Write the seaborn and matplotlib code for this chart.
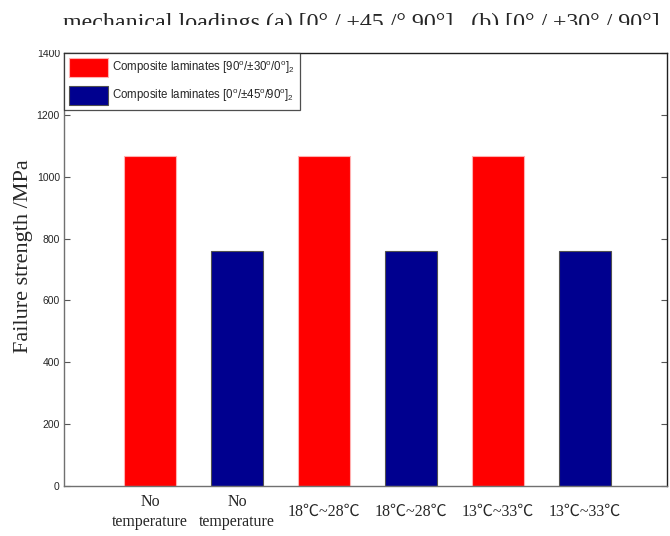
import matplotlib
matplotlib.use("Agg")
import matplotlib.pyplot as plt
import matplotlib.patches as mpatches
import numpy as np
import pandas as pd
import seaborn as sns

# Failure strength of two laminate layups under different temperature ranges
conditions = ["No\ntemperature", "No\ntemperature", "18℃~28℃", "18℃~28℃", "13℃~33℃", "13℃~33℃"]
layups = [
    "Composite laminates [90$^{\\mathrm{o}}$/±30$^{\\mathrm{o}}$/0$^{\\mathrm{o}}$]$_{2}$",
    "Composite laminates [0$^{\\mathrm{o}}$/±45$^{\\mathrm{o}}$/90$^{\\mathrm{o}}$]$_{2}$",
]
series = [layups[0], layups[1], layups[0], layups[1], layups[0], layups[1]]
strength = [1068, 760, 1068, 760, 1068, 760]
y_ticks = [0, 200, 400, 600, 800, 1000, 1200, 1400]
caption = "mechanical loadings (a) [0° / ±45 /° 90°]   (b) [0° / ±30° / 90°]"

sns.set_theme(style="white")
plt.rcParams["font.family"] = ["Liberation Sans", "DejaVu Sans"]
plt.rcParams["mathtext.fontset"] = "custom"
plt.rcParams["mathtext.rm"] = "Liberation Sans"
plt.rcParams["mathtext.it"] = "Liberation Sans:italic"

df = pd.DataFrame({
    "slot": [f"s{i}" for i in range(len(conditions))],
    "condition": conditions,
    "layup": series,
    "strength": strength,
})

fig = plt.figure(figsize=(6.7, 5.36), dpi=100)
ax = fig.add_axes([64 / 670, 50 / 536, 603 / 670, 433 / 536])

palette = {layups[0]: "#FF0000", layups[1]: "#00008F"}
sns.barplot(data=df, x="slot", y="strength", hue="layup", palette=palette,
            dodge=False, width=0.6, saturation=1, ax=ax, legend=True)

# bar outlines: faint pink on red, dark grey on blue
for patch in ax.patches:
    fc = patch.get_facecolor()
    if fc[0] > 0.5:
        patch.set_edgecolor("#FFB0B0")
    else:
        patch.set_edgecolor("#505050")
    patch.set_linewidth(0.8)

ax.set_xlim(-0.99, 5.94)
ax.set_ylim(0, 1400)
ax.set_yticks(y_ticks)
ax.set_yticklabels([str(v) for v in y_ticks], fontsize=7.5)
ax.tick_params(axis="y", which="both", direction="in", length=4, width=0.8,
               left=True, right=True, color="#555555", pad=3)
ax.tick_params(axis="x", length=0, pad=18.5)
ax.set_xticks(range(len(conditions)))
ax.set_xticklabels(conditions, fontsize=11.5, linespacing=1.35,
                   family=["Liberation Serif", "Noto Sans CJK SC"])
for lbl in ax.get_xticklabels():
    lbl.set_verticalalignment("center")

ax.set_xlabel("")
ax.set_ylabel("Failure strength /MPa", fontsize=16, family="Liberation Serif")
ax.yaxis.set_label_coords(-0.052, 0.53)

for side in ["left", "right", "top", "bottom"]:
    ax.spines[side].set_visible(True)
    ax.spines[side].set_linewidth(1.0)
ax.spines["left"].set_color("#707070")
ax.spines["bottom"].set_color("#707070")
ax.spines["top"].set_color("#202020")
ax.spines["right"].set_color("#202020")

leg = ax.legend(loc="upper left", bbox_to_anchor=(0, 1), borderaxespad=0,
                frameon=True, fancybox=False, fontsize=8.3, handlelength=3.4,
                handleheight=2.2, labelspacing=0.7, handletextpad=0.3,
                borderpad=0.45)
leg.get_frame().set_edgecolor("#222222")
leg.get_frame().set_linewidth(0.9)
for h in leg.legend_handles:
    if h.get_facecolor()[0] > 0.5:
        h.set_edgecolor("#FFB0B0")
    else:
        h.set_edgecolor("#505050")

# caption line from the page above, cut off by the crop
fig.text(63 / 670, 1 - 29 / 536, caption, fontsize=17.3, family="Liberation Serif",
         va="baseline", ha="left")
fig.add_artist(mpatches.Rectangle((0, 1 - 50 / 536), 1, 25 / 536,
                                  transform=fig.transFigure, facecolor="white",
                                  edgecolor="none", zorder=10))

fig.savefig("out.png", dpi=100)
